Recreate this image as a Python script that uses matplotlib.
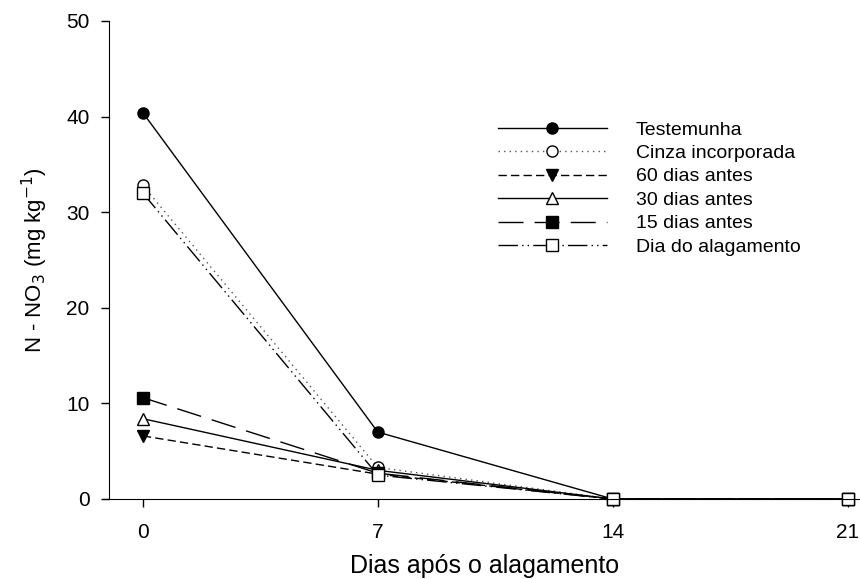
import matplotlib
matplotlib.use("Agg")
import matplotlib.pyplot as plt

plt.rcParams['font.family'] = ['Liberation Sans', 'DejaVu Sans']

days = [0, 7, 14, 21]
labels = ['Testemunha', 'Cinza incorporada', '60 dias antes',
          '30 dias antes', '15 dias antes', 'Dia do alagamento']
testemunha = [40.4, 7.0, 0.0, 0.0]
cinza = [32.8, 3.3, 0.0, 0.0]
antes60 = [6.6, 2.6, 0.0, 0.0]
antes30 = [8.4, 3.0, 0.0, 0.0]
antes15 = [10.6, 2.7, 0.0, 0.0]
dia_alag = [32.0, 2.5, 0.0, 0.0]

series = [testemunha, cinza, antes60, antes30, antes15, dia_alag]
styles = [
    dict(ls='-', marker='o', mfc='black'),
    dict(ls=(0, (1, 3)), marker='o', mfc='white', color='#555555', mec='black'),
    dict(ls=(0, (6, 3)), marker='v', mfc='black'),
    dict(ls='-', marker='^', mfc='white'),
    dict(ls=(0, (18, 8)), marker='s', mfc='black'),
    dict(ls=(0, (14, 3, 1, 3, 1, 3)), marker='s', mfc='white'),
]

fig = plt.figure(figsize=(8.6, 5.79), dpi=100)
ax = fig.add_axes([109 / 860, 80 / 579, 1 - 109 / 860, (499 - 21) / 579])

for vals, lab, st in zip(series, labels, styles):
    kw = dict(color='black', lw=1.0, ms=8, mec='black', mew=1.0)
    kw.update(st)
    ax.plot(days, vals, label=lab, clip_on=False, **kw)

ax.set_xlim(-1.01, 21.37)
ax.set_ylim(0, 50)
ax.set_xticks(days)
ax.set_yticks([0, 10, 20, 30, 40, 50])
ax.spines['top'].set_visible(False)
ax.spines['right'].set_visible(False)
ax.spines['bottom'].set_bounds(-1.2, 21.37)
ax.tick_params(direction='out', length=6, width=1, labelsize=15)
ax.tick_params(axis='x', pad=11)
ax.tick_params(axis='y', pad=8)

ax.set_xlabel('Dias após o alagamento', fontsize=18, labelpad=9)
ax.set_ylabel('N - NO$_3$ (mg kg$^{-1}$)', fontsize=16, labelpad=12)

ax.legend(loc='upper left', bbox_to_anchor=(498 / 860, 1 - 121 / 579),
          bbox_transform=fig.transFigure, frameon=False, fontsize=14,
          handlelength=5.6, handletextpad=1.5, labelspacing=0.3,
          borderpad=0, borderaxespad=0)

fig.savefig('out.png', dpi=100)
